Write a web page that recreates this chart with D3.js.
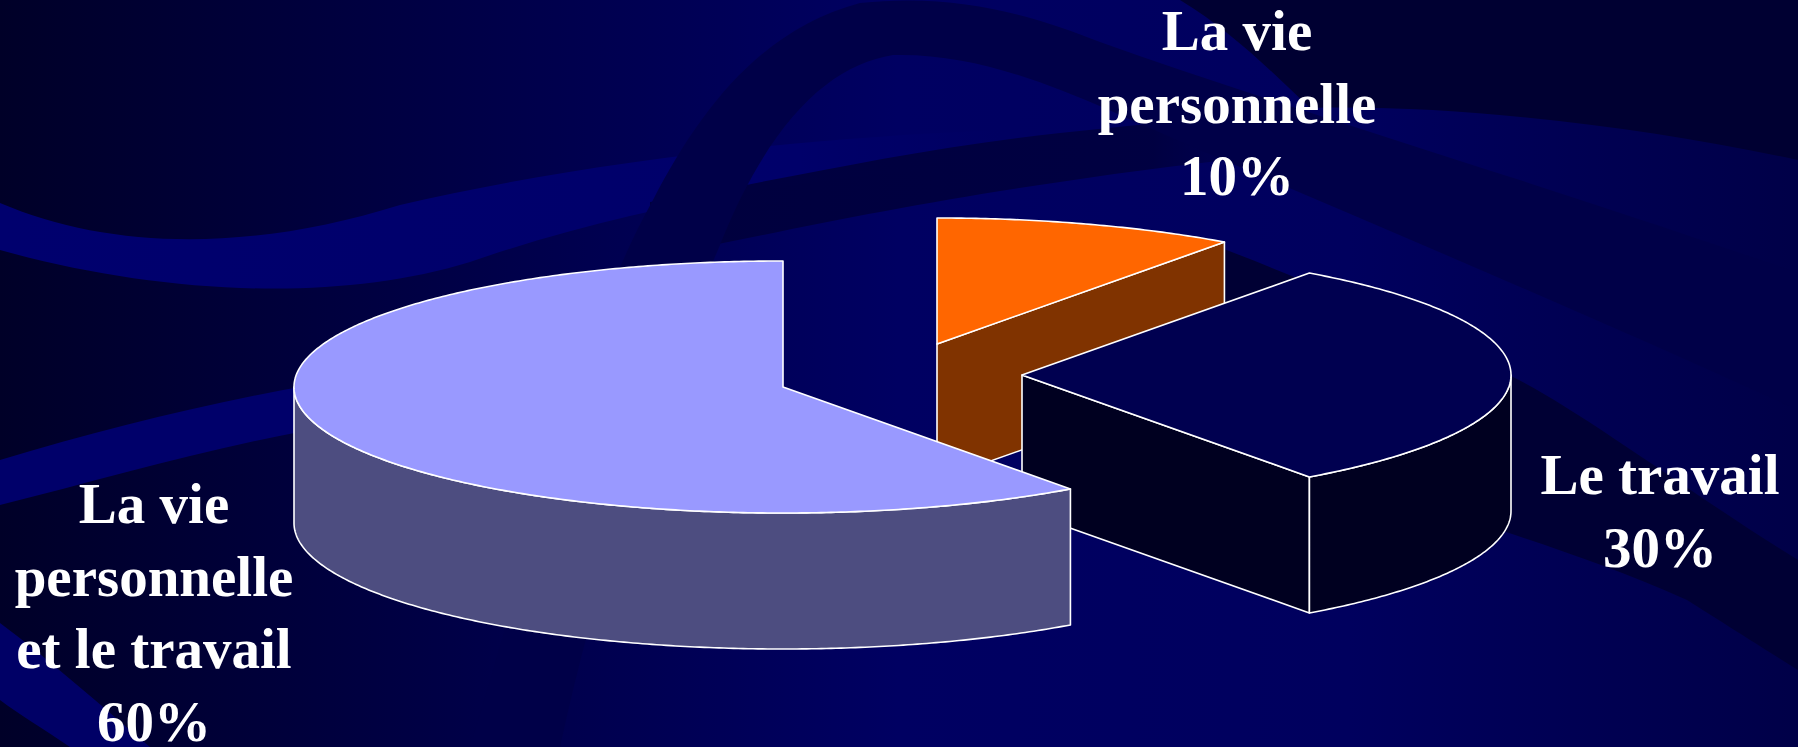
<!DOCTYPE html>
<html>
<head>
<meta charset="utf-8">
<script src="https://cdn.jsdelivr.net/npm/d3@7"></script>
<style>
  html, body { margin: 0; padding: 0; overflow: hidden; background: #000050; }
  svg { display: block; }
</style>
</head>
<body>
<svg id="chart"></svg>
<script>
// chart data
const categories = ['La vie personnelle', 'Le travail', 'La vie personnelle et le travail'];
const values = [10, 30, 60];
const labelLines = [
    ['La vie', 'personnelle'],
    ['Le travail'],
    ['La vie', 'personnelle', 'et le travail']
];

// styles
const topColors = ['#ff6600', '#000050', '#9999ff'];
const sideColors = ['#803300', '#000020', '#4d4d80'];

// layout
const width = 1798;
const height = 747;
const rx = 489;
const ry = 126;
const depth = 136;
const pieCenter = [783, 387];
const explode = [[154, -43], [239, -12], [0, 0]];
const labelPos = [[1237, 50], [1660, 494], [154, 523]];
const lineHeight = 72.5;

const svg = d3.select('#chart')
    .attr('width', width)
    .attr('height', height)
    .attr('viewBox', `0 0 ${width} ${height}`);

//----------------------------------------------------------------------------
// background (slide template swooshes)
const defs = svg.append('defs');

function linGrad(id, stops, units) {
    const g = defs.append('linearGradient')
        .attr('id', id)
        .attr('x1', 0).attr('y1', 0).attr('x2', 1).attr('y2', 0);
    stops.forEach(([o, c, a = 1]) => g.append('stop')
        .attr('offset', o)
        .attr('stop-color', c)
        .attr('stop-opacity', a));
}

linGrad('bg', [[0, '#000028'], [0.3, '#00004c'], [0.5, '#000062'], [0.75, '#00005e'], [1, '#000048']]);
linGrad('fadeRight', [[0, '#00003e', 1], [0.75, '#00003e', 0.9], [1, '#00003e', 0]]);
linGrad('leftLight', [[0, '#00006e', 1], [0.8, '#00006a', 1], [1, '#00006a', 0]]);

svg.append('rect')
    .attr('width', width)
    .attr('height', height)
    .attr('fill', 'url(#bg)');

const swooshes = [
    // light ribbon from the left edge
    { fill: 'url(#leftLight)', d: 'M0,203 C110,250 250,252 400,205 C560,168 760,140 1000,130 L1000,165 C800,175 620,210 470,262 C330,305 150,292 0,250 Z' },
    // dark ribbon crossing behind the pie (starts behind the arc)
    { fill: 'url(#fadeRight)', d: 'M650,202 C760,185 900,150 1060,133 C1160,122 1250,115 1320,112 L1320,150 C1240,158 1150,168 1060,182 C900,205 780,232 650,258 Z' },
    // dark arc rising from the bottom and sweeping to the right
    { fill: '#000048', d: 'M470,747 C540,520 580,330 653,200 C700,110 760,30 860,3 C960,-8 1040,18 1100,42 C1260,100 1500,170 1798,273 L1798,410 C1600,320 1400,235 1200,150 C1100,108 1000,52 893,55 C830,65 770,120 720,245 C670,360 600,560 560,747 Z' },
    // dark top right corner
    { fill: '#000032', d: 'M1180,0 L1798,0 L1798,160 C1650,128 1460,104 1310,108 C1270,70 1230,30 1180,0 Z' },
    // dark diagonal band behind "Le travail"
    { fill: '#000034', d: 'M1200,240 C1300,277 1420,330 1513,377 C1580,410 1700,500 1798,560 L1798,670 C1750,640 1700,608 1687,600 C1620,570 1560,550 1500,530 C1400,490 1300,440 1200,390 Z' },
    // lower left light bands
    { fill: '#00006a', d: 'M0,460 C100,430 200,405 310,385 L310,430 C200,450 100,480 0,505 Z' },
    { fill: '#000066', d: 'M0,623 C50,660 100,705 150,747 L70,747 C45,730 20,715 0,700 Z' }
];

svg.append('g')
    .selectAll('path')
    .data(swooshes)
    .join('path')
    .attr('d', d => d.d)
    .attr('fill', d => d.fill);

//----------------------------------------------------------------------------
// 3D pie
const pie = d3.pie().sort(null).value(d => d.value);
const arcs = pie(values.map((v, i) => ({ value: v, index: i })));

const line = d3.line();

function center(i, z) {
    return [pieCenter[0] + explode[i][0], pieCenter[1] + explode[i][1] + z];
}

function proj(i, a, z) {
    const [cx, cy] = center(i, z);
    return [cx + rx * Math.sin(a), cy - ry * Math.cos(a)];
}

function arcPoints(i, a0, a1, z) {
    const n = Math.max(2, Math.ceil(Math.abs(a1 - a0) / 0.01));
    return d3.range(n + 1).map(k => proj(i, a0 + (a1 - a0) * k / n, z));
}

// draw back slices first
const order = d3.range(arcs.length).sort((a, b) => explode[a][1] - explode[b][1]);

const pieG = svg.append('g')
    .attr('stroke', '#ffffff')
    .attr('stroke-width', 1.6)
    .attr('stroke-linejoin', 'round');

order.forEach(i => {
    const s = arcs[i].startAngle;
    const e = arcs[i].endAngle;
    const g = pieG.append('g').attr('class', 'slice');

    // radial walls facing the viewer
    const walls = [];
    if (-Math.sin(s) > 1e-6) walls.push(s);
    if (Math.sin(e) > 1e-6) walls.push(e);
    walls.forEach(a => {
        g.append('path')
            .attr('fill', sideColors[i])
            .attr('d', line([center(i, 0), proj(i, a, 0), proj(i, a, depth), center(i, depth)]) + 'Z');
    });

    // outer wall (front half only)
    const a0 = Math.max(s, Math.PI / 2);
    const a1 = Math.min(e, Math.PI * 1.5);
    if (a1 > a0) {
        const pts = arcPoints(i, a0, a1, 0).concat(arcPoints(i, a1, a0, depth));
        g.append('path')
            .attr('fill', sideColors[i])
            .attr('d', line(pts) + 'Z');
    }

    // top face
    const topPts = [center(i, 0)].concat(arcPoints(i, s, e, 0));
    g.append('path')
        .attr('fill', topColors[i])
        .attr('d', line(topPts) + 'Z');
});

//----------------------------------------------------------------------------
// labels
const labels = svg.append('g')
    .attr('font-family', '"Liberation Serif", "Times New Roman", serif')
    .attr('font-weight', 'bold')
    .attr('font-size', 57)
    .attr('fill', '#ffffff')
    .attr('text-anchor', 'middle');

categories.forEach((c, i) => {
    const lines = labelLines[i].concat([`${values[i]}%`]);
    const t = labels.append('text')
        .attr('class', 'label')
        .attr('x', labelPos[i][0])
        .attr('y', labelPos[i][1]);
    lines.forEach((l, k) => {
        t.append('tspan')
            .attr('x', labelPos[i][0])
            .attr('y', labelPos[i][1] + k * lineHeight)
            .text(l);
    });
});
</script>
</body>
</html>
